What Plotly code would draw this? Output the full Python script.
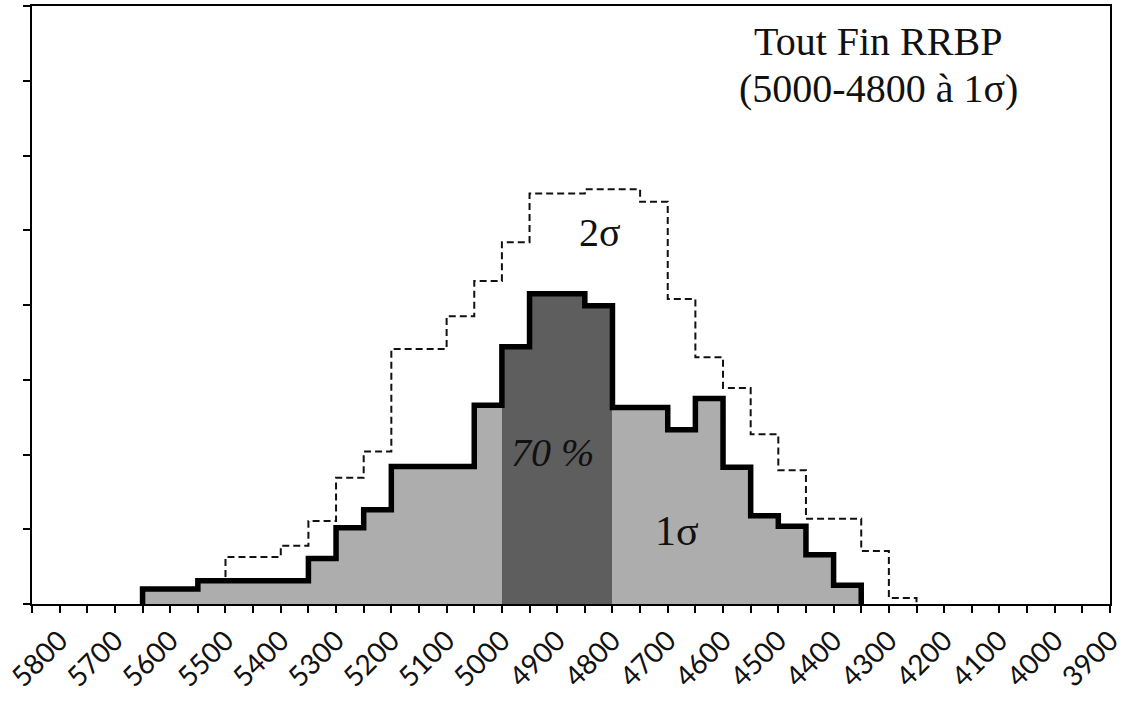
import plotly.graph_objects as go

# Bin edges (upper edge of each 50-wide bin, descending) and frequencies
bin_left = [5650, 5600, 5550, 5500, 5450, 5400, 5350, 5300, 5250, 5200,
            5150, 5100, 5050, 5000, 4950, 4900, 4850, 4800, 4750, 4700,
            4650, 4600, 4550, 4500, 4450, 4400]
one_sigma = [0.20, 0.20, 0.31, 0.31, 0.31, 0.31, 0.61, 1.02, 1.26, 1.84,
             1.84, 1.84, 2.66, 3.44, 4.15, 4.15, 3.99, 2.63, 2.63, 2.33,
             2.75, 1.83, 1.18, 1.04, 0.66, 0.25]

two_left = [5650, 5600, 5550, 5500, 5450, 5400, 5350, 5300, 5250, 5200,
            5150, 5100, 5050, 5000, 4950, 4900, 4850, 4800, 4750, 4700,
            4650, 4600, 4550, 4500, 4450, 4400, 4350, 4300]
two_sigma = [0.20, 0.20, 0.33, 0.63, 0.63, 0.78, 1.11, 1.69, 2.04, 3.41,
             3.41, 3.85, 4.32, 4.84, 5.49, 5.49, 5.55, 5.55, 5.38, 4.08,
             3.30, 2.89, 2.27, 1.79, 1.14, 1.14, 0.71, 0.08]

BIN = 50
core_range = (4800, 5000)  # 70 % interval
tick_values = list(range(3900, 5851, 50))
tick_labels = [str(v) if v % 100 == 0 else "" for v in tick_values]


def step_path(lefts, vals):
    xs = [lefts[0]] + list(lefts) + [lefts[-1] - BIN]
    ys = [0] + list(vals) + [0]
    return xs, ys


fig = go.Figure()

# 2 sigma envelope (dashed)
x2, y2 = step_path(two_left, two_sigma)
fig.add_trace(go.Scatter(x=x2, y=y2, mode="lines", line_shape="hv",
                         line=dict(color="#111111", width=2, dash="7px,4px"),
                         hoverinfo="skip"))

# 1 sigma histogram fill
centers = [l - BIN / 2 for l in bin_left]
colors = ["#5e5e5e" if core_range[0] < c < core_range[1] else "#adadad" for c in centers]
fig.add_trace(go.Bar(x=centers, y=one_sigma, width=BIN, marker=dict(color=colors, line_width=0)))

# 1 sigma outline
x1, y1 = step_path(bin_left, one_sigma)
fig.add_trace(go.Scatter(x=x1, y=y1, mode="lines", line_shape="hv",
                         line=dict(color="#000000", width=5.5), hoverinfo="skip"))

serif = "Liberation Serif, Times New Roman, serif"
ann = [
    dict(x=4319, y=7.53, text="Tout Fin RRBP", size=40),
    dict(x=4319, y=6.90, text="(5000-4800 à 1σ)", size=40),
    dict(x=4822, y=4.97, text="2σ", size=40),
    dict(x=4908, y=2.03, text="<i>70 %</i>", size=40),
    dict(x=4683, y=0.98, text="1σ", size=42),
]
for a in ann:
    fig.add_annotation(x=a["x"], y=a["y"], xref="x", yref="y", text=a["text"],
                       showarrow=False, xanchor="center", yanchor="middle",
                       font=dict(family=serif, size=a["size"], color="#111111"))

fig.update_layout(
    width=1125, height=701,
    margin=dict(l=32, r=15, t=6, b=97, autoexpand=False),
    paper_bgcolor="white", plot_bgcolor="white",
    showlegend=False, bargap=0,
    xaxis=dict(range=[5850, 3900], tickmode="array", tickvals=tick_values,
               ticktext=tick_labels, tickangle=-45, ticks="outside", ticklen=7,
               tickwidth=2, tickcolor="black", showline=True, linecolor="black",
               linewidth=2, mirror=True, showgrid=False, zeroline=False,
               automargin=False, ticklabeloverflow="allow",
               tickfont=dict(family="Lato, Open Sans, sans-serif", size=28, color="#111111")),
    yaxis=dict(range=[0, 8], dtick=1, ticks="outside", ticklen=7, tickwidth=2,
               tickcolor="black", showticklabels=False, showline=True,
               linecolor="black", linewidth=2, mirror=True, showgrid=False,
               zeroline=False, automargin=False),
)

fig.write_html("out.html")
